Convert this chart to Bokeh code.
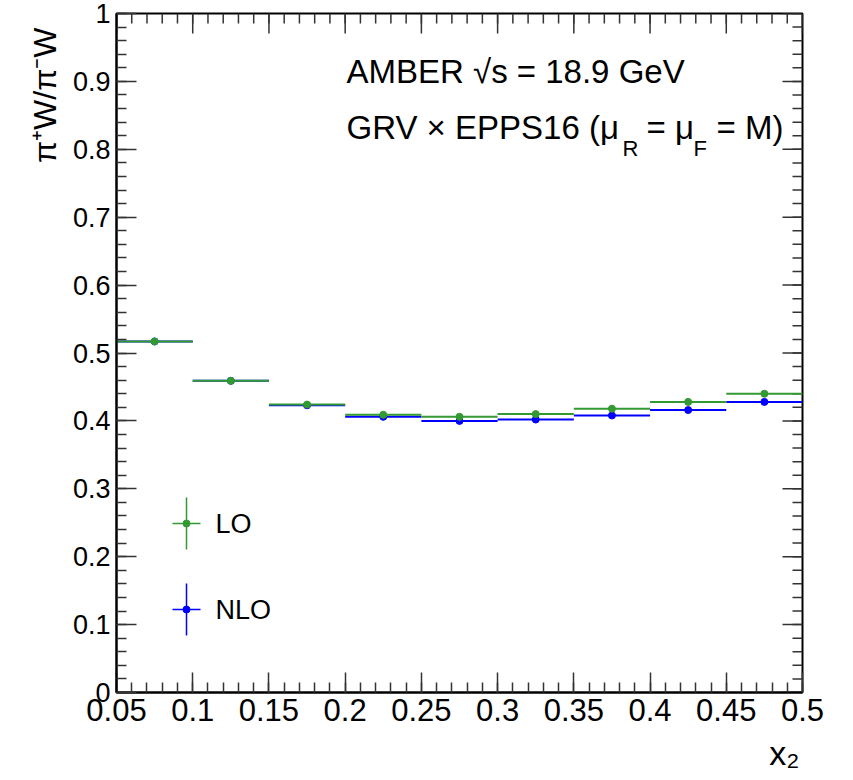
from bokeh.plotting import figure
from bokeh.models import Range1d, FixedTicker, LinearAxis, Label, Title
from bokeh.embed import file_html
from bokeh.resources import INLINE

# ---------------- data ----------------
bin_lo = [0.05, 0.10, 0.15, 0.20, 0.25, 0.30, 0.35, 0.40, 0.45]
bin_hi = [0.10, 0.15, 0.20, 0.25, 0.30, 0.35, 0.40, 0.45, 0.50]
bin_center = [0.075, 0.125, 0.175, 0.225, 0.275, 0.325, 0.375, 0.425, 0.475]
lo_ratio = [0.517, 0.459, 0.424, 0.409, 0.406, 0.410, 0.418, 0.428, 0.440]
nlo_ratio = [0.517, 0.459, 0.423, 0.406, 0.400, 0.402, 0.408, 0.416, 0.428]

x_ticks = [0.05, 0.10, 0.15, 0.20, 0.25, 0.30, 0.35, 0.40, 0.45, 0.50]
x_tick_labels = ["0.05", "0.1", "0.15", "0.2", "0.25", "0.3", "0.35", "0.4", "0.45", "0.5"]
y_ticks = [0.0, 0.1, 0.2, 0.3, 0.4, 0.5, 0.6, 0.7, 0.8, 0.9, 1.0]
y_tick_labels = ["0", "0.1", "0.2", "0.3", "0.4", "0.5", "0.6", "0.7", "0.8", "0.9", "1"]
x_minor = [round(0.05 + 0.01 * i, 2) for i in range(46)]
y_minor = [round(0.02 * i, 2) for i in range(51)]

series_names = ["LO", "NLO"]
x_title = "x\u2082"
y_title = "\u03c0\u207aW/\u03c0\u207bW"

# ---------------- style ----------------
FONT = "Liberation Sans"
GREEN = "#339933"
BLUE = "#0000ff"
XMIN, XMAX, YMIN, YMAX = 0.05, 0.50, 0.0, 1.0

# frame position on the page (page px)
FL, FT, FR, FB = 117, 14, 803, 693
MAJ, MIN_ = 20, 10  # tick lengths, px


def dx(X):
    return XMIN + (X - FL) / (FR - FL) * (XMAX - XMIN)


def dy(Y):
    return YMIN + (FB - Y) / (FB - FT) * (YMAX - YMIN)


p = figure(
    frame_width=FR - FL, frame_height=FB - FT,
    min_border_left=FL - 1, min_border_top=FT - 1,
    min_border_right=40, min_border_bottom=86,
    x_range=Range1d(XMIN, XMAX), y_range=Range1d(YMIN, YMAX),
    output_backend="svg", toolbar_location=None,
    x_axis_location=None, y_axis_location=None,
)
p.grid.visible = False
p.outline_line_color = "black"
p.outline_line_width = 2
p.background_fill_color = "white"
p.border_fill_color = "white"

xt = FixedTicker(ticks=x_ticks, minor_ticks=x_minor)
yt = FixedTicker(ticks=y_ticks, minor_ticks=y_minor)


def style_axis(ax, size, overrides):
    ax.axis_line_color = "black"
    ax.axis_line_width = 2
    ax.major_tick_in = MAJ
    ax.major_tick_out = 0
    ax.minor_tick_in = MIN_
    ax.minor_tick_out = 0
    ax.major_tick_line_color = "#333333"
    ax.minor_tick_line_color = "#333333"
    ax.major_tick_line_width = 1.5
    ax.minor_tick_line_width = 1.5
    ax.major_label_text_font = FONT
    ax.major_label_text_font_size = size
    ax.major_label_text_color = "black"
    ax.major_label_standoff = 6
    ax.major_label_overrides = overrides


xb = LinearAxis(ticker=xt)
style_axis(xb, "31px", {t: s for t, s in zip(x_ticks, x_tick_labels)})
p.add_layout(xb, "below")
yl = LinearAxis(ticker=yt)
style_axis(yl, "27px", {t: s for t, s in zip(y_ticks, y_tick_labels)})
p.add_layout(yl, "left")

# axis titles (ROOT style: at the far end of the axis)
p.add_layout(Title(text=x_title, align="right", text_font=FONT, text_font_size="34px",
                   text_font_style="normal", text_color="black", offset=3, standoff=17), "below")
p.add_layout(Title(text=y_title, align="right", text_font=FONT, text_font_size="32px",
                   text_font_style="normal", text_color="black", offset=14, standoff=14), "left")

# mirrored inner ticks on the top and right edges
tick_col = "#333333"
for ticks, L in ((x_ticks, MAJ), (x_minor, MIN_)):
    p.segment(x0=ticks, x1=ticks, y0=[YMAX] * len(ticks), y1=[dy(FT + L)] * len(ticks),
              line_color=tick_col, line_width=1.5)
for ticks, L in ((y_ticks, MAJ), (y_minor, MIN_)):
    p.segment(x0=[XMAX] * len(ticks), x1=[dx(FR - L)] * len(ticks), y0=ticks, y1=ticks,
              line_color=tick_col, line_width=1.5)

# ---------------- series ----------------
p.segment(x0=bin_lo, x1=bin_hi, y0=nlo_ratio, y1=nlo_ratio, line_color=BLUE, line_width=2)
p.scatter(x=bin_center, y=nlo_ratio, size=7, color=BLUE)
p.segment(x0=bin_lo, x1=bin_hi, y0=lo_ratio, y1=lo_ratio, line_color=GREEN, line_width=2)
p.scatter(x=bin_center, y=lo_ratio, size=7, color=GREEN)

# ---------------- legend (drawn by hand, ROOT style) ----------------
leg_x = dx(187)
leg_ys = [dy(524), dy(610)]
half_v = dy(0) - dy(26)
half_h = dx(14) - dx(0)
for name, col, ly in zip(series_names, [GREEN, BLUE], leg_ys):
    p.segment(x0=[leg_x], x1=[leg_x], y0=[ly - half_v], y1=[ly + half_v], line_color=col, line_width=1.5)
    p.segment(x0=[leg_x - half_h], x1=[leg_x + half_h], y0=[ly], y1=[ly], line_color=col, line_width=1.5)
    p.scatter(x=[leg_x], y=[ly], size=7, color=col)
    p.add_layout(Label(x=dx(216), y=ly, text=name, text_font=FONT, text_font_size="27px",
                       text_baseline="middle", text_align="left", text_color="black"))


def lab(X, Y, text, size):
    p.add_layout(Label(x=dx(X), y=dy(Y), text=text, text_font=FONT, text_font_size=size,
                       text_baseline="middle", text_align="left", text_color="black"))


# ---------------- annotations ----------------
lab(347, 72, "AMBER  \u221as = 18.9 GeV", "33px")
lab(347, 128, "GRV \u00d7 EPPS16 (\u03bc", "33px")
lab(623, 149, "R", "22px")
lab(647, 128, "= \u03bc", "33px")
lab(694, 149, "F", "22px")
lab(717, 128, "= M)", "33px")

open("out.html", "w").write(file_html(p, INLINE))
